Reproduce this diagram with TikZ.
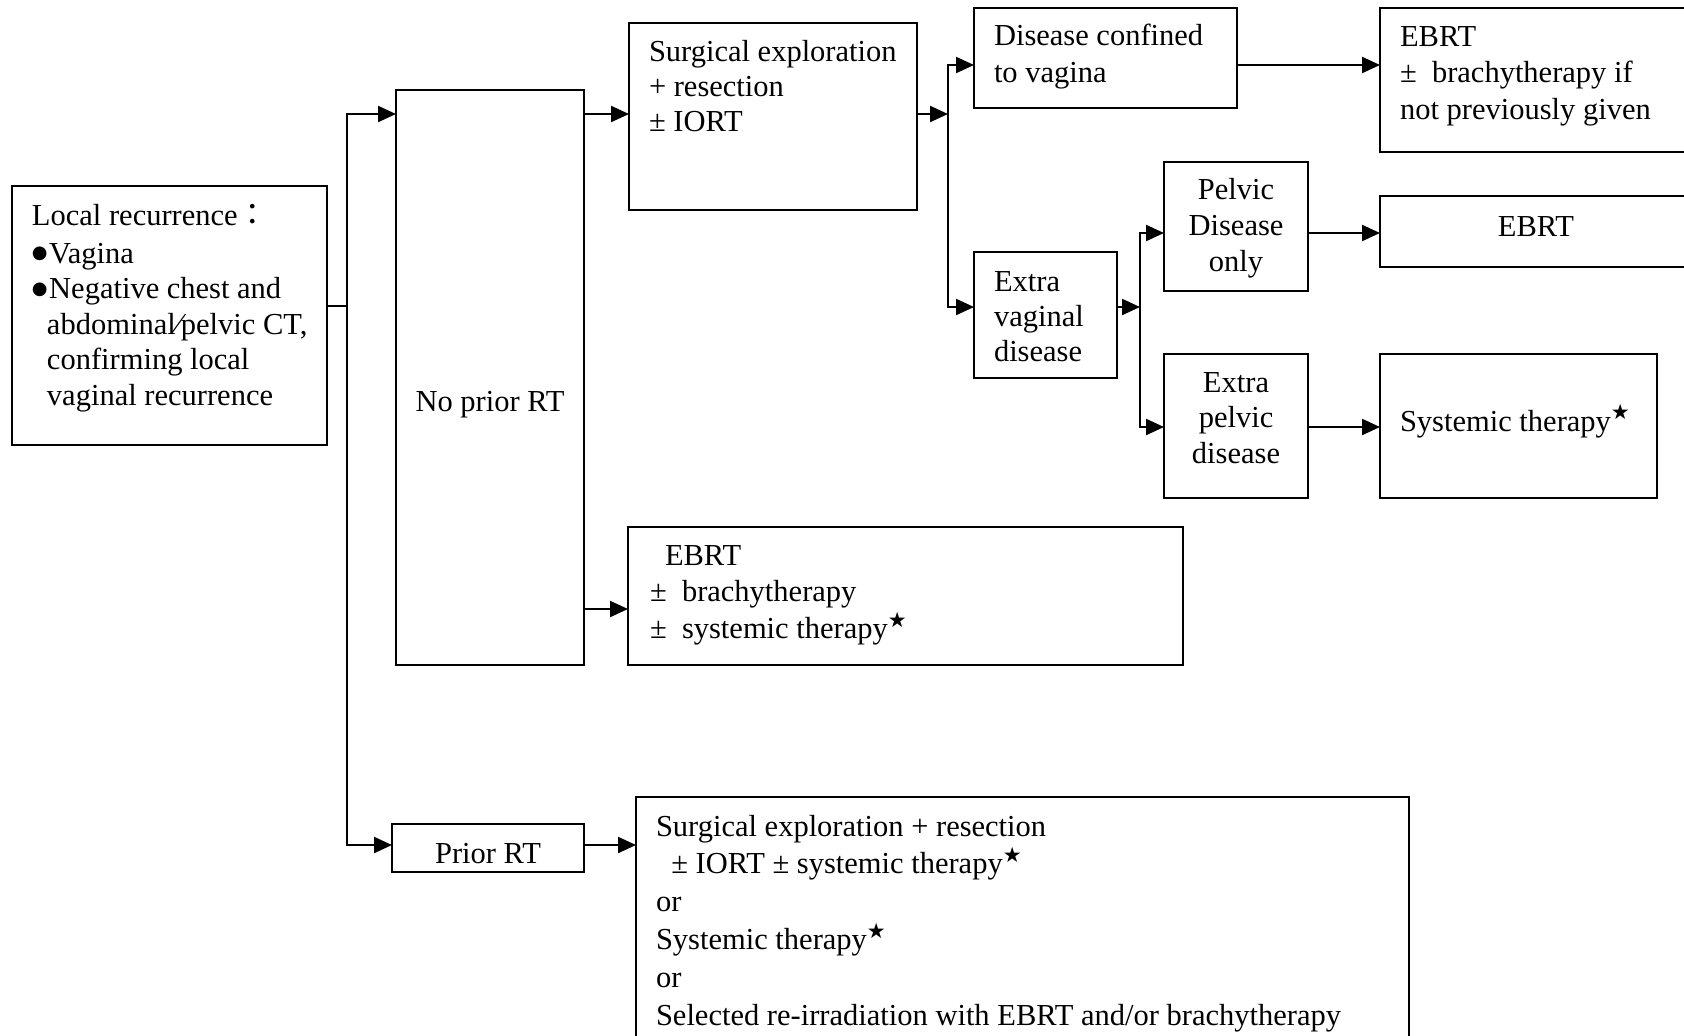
\documentclass[tikz,border=0pt]{standalone}
\usepackage{fontspec}
\setmainfont{Liberation Serif}
\newfontfamily\symfnt{DejaVu Sans}
\newfontfamily\cjkfnt{Noto Sans CJK TC}
\usetikzlibrary{arrows.meta,fit}

% small raised star used as a footnote mark
\newcommand{\starmark}{\raisebox{5.6pt}{\fontsize{10.5}{10.5}\selectfont\symfnt ★}}
% filled round bullet
\newcommand{\dotmark}{\makebox[8.6pt][l]{\raisebox{2.2pt}{\fontsize{9}{9}\selectfont\symfnt ●}}}
% stacked lines, baseline of the first line is the node baseline
\newcommand{\stackL}[1]{\begin{tabular}[t]{@{}l@{}}#1\end{tabular}}
\newcommand{\stackC}[1]{\begin{tabular}[t]{@{}c@{}}#1\end{tabular}}
\newcommand{\fs}[1]{\fontsize{15.25}{#1}\selectfont}

\tikzset{
  box/.style={draw, line width=0.9pt, inner sep=0pt, outer sep=0pt, rectangle},
  lbl/.style={inner sep=0pt, outer sep=0pt, anchor=base west},
  clbl/.style={inner sep=0pt, outer sep=0pt, anchor=base},
  conn/.style={line width=1.1pt},
  arr/.style={conn, -{Triangle[length=9pt,width=8pt]}},
}

\begin{document}
\begin{tikzpicture}[x=0.5pt,y=-0.5pt]
\useasboundingbox (0,0) rectangle (1684,1035);
\clip (0,0) rectangle (1684,1035);

% ---- boxes ----
\node[box, fit={(12,186) (327,445)}]   (local)   {};
\node[box, fit={(396,90) (584,665)}]   (noprior) {};
\node[box, fit={(392,824) (584,872)}]  (prior)   {};
\node[box, fit={(629,23) (917,210)}]   (surg)    {};
\node[box, fit={(628,527) (1183,665)}] (ebrt2)   {};
\node[box, fit={(636,797) (1409,1100)}] (big)    {};
\node[box, fit={(974,8) (1237,108)}]   (dis)     {};
\node[box, fit={(1380,8) (1692,152)}]  (ebrt1)   {};
\node[box, fit={(974,252) (1117,378)}] (extrav)  {};
\node[box, fit={(1164,162) (1308,291)}] (pelvic) {};
\node[box, fit={(1164,354) (1308,498)}] (extrap) {};
\node[box, fit={(1380,196) (1692,267)}] (ebrtp)  {};
\node[box, fit={(1380,354) (1657,498)}] (sys)    {};

% ---- texts ----
\node[lbl, font=\fs{17.75}] (local-t) at (32,225) {\stackL{%
  Local recurrence{\cjkfnt ：}\\[1.25pt]
  \dotmark Vagina\\
  \dotmark Negative chest and\\
  \hspace{7.5pt}abdominal⁄pelvic CT,\\
  \hspace{7.5pt}confirming local\\
  \hspace{7.5pt}vaginal recurrence}};

\node[clbl, font=\fs{17.75}] (noprior-t) at (490,411) {No prior RT};
\node[clbl, font=\fs{17.75}] (prior-t) at (488,863) {Prior RT};

\node[lbl, font=\fs{17.5}] (surg-t) at (649,61) {\stackL{%
  Surgical exploration\\
  + resection\\
  ± IORT}};

\node[lbl, font=\fs{18.25}] (ebrt2-t) at (650,565) {\stackL{%
  \hspace{7.5pt}EBRT\\
  ±\ \ brachytherapy\\
  ±\ \ systemic therapy\starmark}};

\node[lbl, font=\fs{18.9}] (big-t) at (656,836) {\stackL{%
  Surgical exploration + resection\\
  \hspace{0.5em}± IORT ± systemic therapy\starmark\\
  or\\
  Systemic therapy\starmark\\
  or\\
  Selected re-irradiation with EBRT and/or brachytherapy}};

\node[lbl, font=\fs{18.5}] (dis-t) at (994,45) {\stackL{%
  Disease confined\\
  to vagina}};

\node[lbl, font=\fs{18.25}] (ebrt1-t) at (1400,46) {\stackL{%
  EBRT\\
  ±\ \ brachytherapy if\\
  not previously given}};

\node[lbl, font=\fs{17.5}] (extrav-t) at (994,291) {\stackL{%
  Extra\\
  vaginal\\
  disease}};

\node[clbl, font=\fs{18}] (pelvic-t) at (1236,199) {\stackC{%
  Pelvic\\
  Disease\\
  only}};

\node[clbl, font=\fs{17.75}] (extrap-t) at (1236,392) {\stackC{%
  Extra\\
  pelvic\\
  disease}};

\node[clbl, font=\fs{17.75}] (ebrtp-t) at (1536,236) {EBRT};
\node[lbl, font=\fs{17.75}] (sys-t) at (1400,431) {Systemic therapy\starmark};

% ---- connectors ----
\coordinate (stub) at (347,306);
\coordinate (rowTop) at (0,114);
\coordinate (rowBot) at (0,845);
\coordinate (rowEbrt) at (0,609);
\draw[conn] (local.east |- stub) -- (stub);
\draw[arr] (stub) |- (noprior.west |- rowTop);
\draw[arr] (stub) |- (prior.west |- rowBot);
\draw[arr] (noprior.east |- rowTop) -- (surg.west |- rowTop);
\draw[arr] (noprior.east |- rowEbrt) -- (ebrt2.west |- rowEbrt);
\draw[arr] (prior.east |- rowBot) -- (big.west |- rowBot);

\coordinate (busA) at (948,114);
\coordinate (rowDis) at (0,65);
\coordinate (rowExv) at (0,307);
\draw[arr] (surg.east |- busA) -- (busA);
\draw[arr] (busA) |- (dis.west |- rowDis);
\draw[arr] (busA) |- (extrav.west |- rowExv);
\draw[arr] (dis.east |- rowDis) -- (ebrt1.west |- rowDis);

\coordinate (busB) at (1140,307);
\coordinate (rowPel) at (0,233);
\coordinate (rowExp) at (0,427);
\draw[arr] (extrav.east |- busB) -- (busB);
\draw[arr] (busB) |- (pelvic.west |- rowPel);
\draw[arr] (busB) |- (extrap.west |- rowExp);
\draw[arr] (pelvic.east |- rowPel) -- (ebrtp.west |- rowPel);
\draw[arr] (extrap.east |- rowExp) -- (sys.west |- rowExp);
\end{tikzpicture}
\end{document}
